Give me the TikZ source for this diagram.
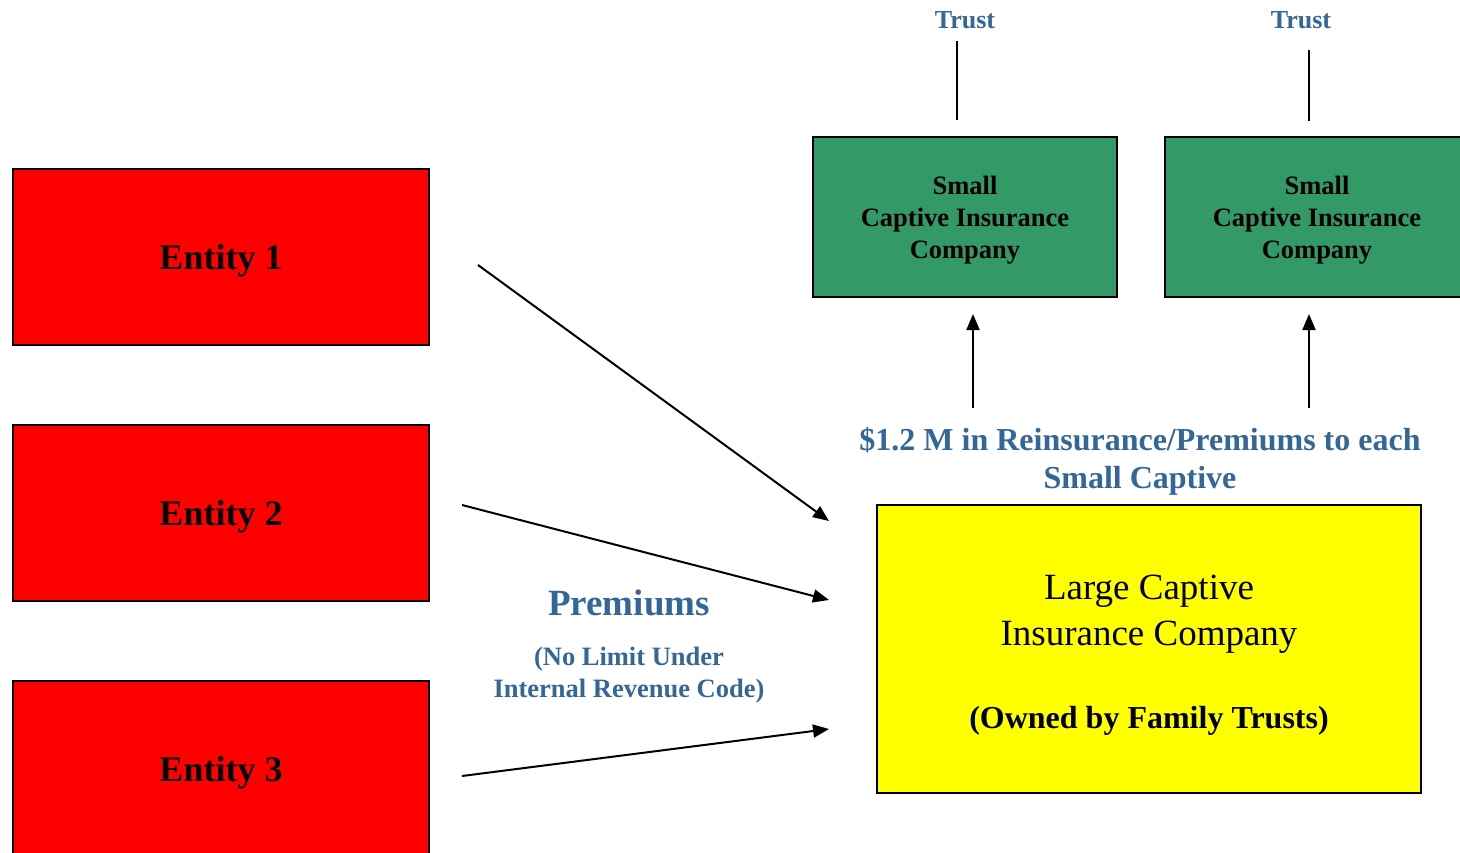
\documentclass[tikz,border=0pt]{standalone}
\usepackage{fontspec}
\setmainfont{Liberation Serif}
\usetikzlibrary{arrows.meta}
\definecolor{capblue}{RGB}{51,102,153}
\definecolor{capgreen}{RGB}{51,153,102}
\definecolor{capred}{RGB}{255,0,0}
\definecolor{capyellow}{RGB}{255,255,0}
\tikzset{
  entitybox/.style={draw=black, line width=2pt, fill=capred, minimum width=416pt, minimum height=176pt, inner sep=0pt,
    text depth=0pt, font=\bfseries\fontsize{36}{40}\selectfont},
  smallbox/.style={draw=black, line width=2pt, fill=capgreen, minimum width=304pt, minimum height=160pt, inner sep=0pt,
    align=center, text depth=0pt, font=\bfseries\fontsize{26.5}{32}\selectfont},
  largebox/.style={draw=black, line width=1.5pt, fill=capyellow, minimum width=544pt, minimum height=288pt, inner sep=0pt},
  bluelabel/.style={text=capblue, align=center, inner sep=0pt},
  flow/.style={line width=2pt, -{Triangle[length=16pt,width=13pt]}},
  tie/.style={line width=1.8pt}
}
\begin{document}
\begin{tikzpicture}[x=1pt,y=-1pt]
\useasboundingbox (0,0) rectangle (1460,852);
\clip (0,0) rectangle (1460,852);
\fill[white] (0,0) rectangle (1460,852);

% contributing entities
\node[entitybox] (e1) at (221,257) {Entity 1};
\node[entitybox] (e2) at (221,513) {Entity 2};
\node[entitybox] (e3) at (221,769) {Entity 3};

% small captives and their trusts
\node[smallbox] (s1) at (965,217) {Small\\Captive Insurance\\Company};
\node[smallbox] (s2) at (1317,217) {Small\\Captive Insurance\\Company};
\node[bluelabel, font=\bfseries\fontsize{26}{30}\selectfont] (t1) at (965,20) {Trust};
\node[bluelabel, font=\bfseries\fontsize{26}{30}\selectfont] (t2) at (1301,20) {Trust};

% large captive
\node[largebox] (lc) at (1149,649) {};
\node[align=center, inner sep=0pt, font=\fontsize{37}{46}\selectfont] (lct) at (1149,614) {Large Captive\\Insurance Company};
\node[inner sep=0pt, font=\bfseries\fontsize{32}{38}\selectfont] (lco) at (1149,721) {(Owned by Family Trusts)};

% labels
\node[bluelabel, font=\bfseries\fontsize{32}{38}\selectfont] (rl) at (1140,461) {\$1.2 M in Reinsurance/Premiums to each\\Small Captive};
\node[bluelabel, font=\bfseries\fontsize{37}{42}\selectfont] (pl) at (629,603) {Premiums};
\node[bluelabel, font=\bfseries\fontsize{26.5}{32}\selectfont] (pn) at (629,675) {(No Limit Under\\Internal Revenue Code)};

% connector end points
\coordinate (a1s) at (478,265);  \coordinate (a1e) at (829,521);
\coordinate (a2s) at (462,505);  \coordinate (a2e) at (829,600);
\coordinate (a3s) at (462,776);  \coordinate (a3e) at (829,729);
\coordinate (u1s) at (973,408);  \coordinate (u1e) at (973,314);
\coordinate (u2s) at (1309,408); \coordinate (u2e) at (1309,314);
\coordinate (l1s) at (957,41);   \coordinate (l1e) at (957,120);
\coordinate (l2s) at (1309,50);  \coordinate (l2e) at (1309,121);

\draw[flow] (a1s) -- (a1e);
\draw[flow] (a2s) -- (a2e);
\draw[flow] (a3s) -- (a3e);
\draw[flow] (u1s) -- (u1e);
\draw[flow] (u2s) -- (u2e);
\draw[tie] (l1s) -- (l1e);
\draw[tie] (l2s) -- (l2e);
\end{tikzpicture}
\end{document}
